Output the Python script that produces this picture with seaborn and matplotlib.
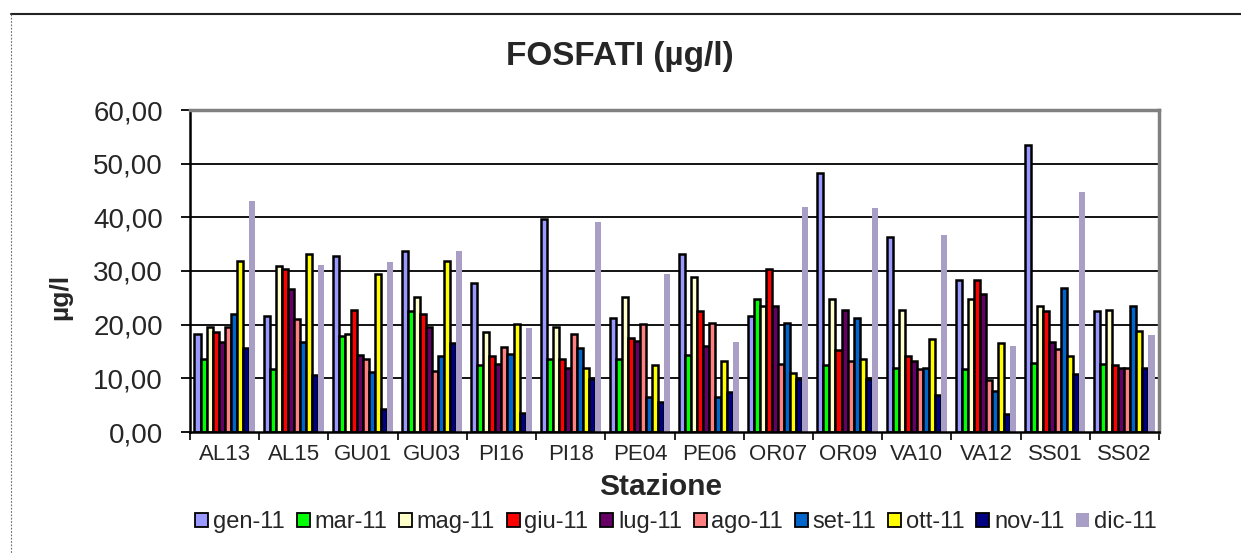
import numpy as np
import pandas as pd
import matplotlib
matplotlib.use("Agg")
import matplotlib.pyplot as plt
from matplotlib.patches import Patch
from matplotlib.ticker import FuncFormatter, FixedLocator
from matplotlib.lines import Line2D
import seaborn as sns

stations = ["AL13", "AL15", "GU01", "GU03", "PI16", "PI18", "PE04", "PE06",
            "OR07", "OR09", "VA10", "VA12", "SS01", "SS02"]
months = ["gen-11", "mar-11", "mag-11", "giu-11", "lug-11",
          "ago-11", "set-11", "ott-11", "nov-11", "dic-11"]

gen_11 = [18.3, 21.7, 32.8, 33.7, 27.7, 39.7, 21.2, 33.1, 21.7, 48.3, 36.4, 28.4, 53.5, 22.5]
mar_11 = [13.6, 11.8, 17.8, 22.5, 12.4, 13.6, 13.6, 14.4, 24.7, 12.4, 12.0, 11.8, 12.8, 12.6]
mag_11 = [19.5, 30.9, 18.3, 25.1, 18.6, 19.6, 25.1, 28.8, 23.5, 24.7, 22.8, 24.7, 23.4, 22.7]
giu_11 = [18.6, 30.4, 22.8, 21.9, 14.1, 13.6, 17.5, 22.5, 30.4, 15.2, 14.1, 28.4, 22.5, 12.4]
lug_11 = [16.8, 26.6, 14.4, 19.6, 12.6, 12.0, 16.9, 16.1, 23.5, 22.8, 13.3, 25.7, 16.8, 12.0]
ago_11 = [19.6, 21.1, 13.6, 11.4, 15.8, 18.3, 20.1, 20.4, 12.6, 13.2, 11.8, 9.6, 15.5, 12.0]
set_11 = [21.9, 16.8, 11.1, 14.1, 14.6, 15.7, 6.5, 6.5, 20.4, 21.2, 12.0, 7.7, 26.9, 23.4]
ott_11 = [31.9, 33.2, 29.4, 31.9, 20.1, 12.0, 12.4, 13.2, 11.0, 13.6, 17.4, 16.5, 14.1, 18.9]
nov_11 = [15.7, 10.6, 4.3, 16.5, 3.6, 9.9, 5.6, 7.4, 9.9, 9.9, 6.9, 3.3, 10.8, 12.0]
dic_11 = [43.0, 31.1, 31.6, 33.7, 19.4, 39.1, 29.4, 16.7, 42.0, 41.7, 36.7, 16.1, 44.7, 18.1]

series = [gen_11, mar_11, mag_11, giu_11, lug_11, ago_11, set_11, ott_11, nov_11, dic_11]
colors = ["#9999FF", "#00FF00", "#FFFFCC", "#FF0000", "#660066",
          "#FF8080", "#0066CC", "#FFFF00", "#000080", "#A99FC6"]
yticks = [0, 10, 20, 30, 40, 50, 60]

rows = []
for m, vals in zip(months, series):
    for s, v in zip(stations, vals):
        rows.append({"Stazione": s, "Mese": m, "Valore": v})
df = pd.DataFrame(rows)

sns.set_style("white")
plt.rcParams["font.family"] = ["Liberation Sans", "DejaVu Sans"]

W, H = 1241, 553
fig = plt.figure(figsize=(W / 100, H / 100), dpi=100)
L, R, T, B = 190, 1159, 110, 432
ax = fig.add_axes([L / W, 1 - B / H, (R - L) / W, (B - T) / H])

sns.barplot(data=df, x="Stazione", y="Valore", hue="Mese", order=stations,
            hue_order=months, palette=colors, width=0.87, gap=0,
            edgecolor="black", linewidth=1.8, saturation=1, ax=ax,
            legend=False)

for cont, m in zip(ax.containers, months):
    if m == "dic-11":
        for p in cont.patches:
            p.set_edgecolor("none")
            p.set_linewidth(0)

ax.set_ylim(0, 60)
ax.set_xlim(-0.5, len(stations) - 0.5)
ax.set_yticks(yticks)
ax.yaxis.set_major_formatter(FuncFormatter(lambda v, p: f"{v:.2f}".replace(".", ",")))
for y in yticks[1:-1]:
    ax.axhline(y, color="black", lw=1.3, zorder=0.5)

ax.set_xlabel("")
ax.set_ylabel("")
ax.tick_params(axis="y", which="major", length=6.5, width=1.3, color="black",
               pad=13, labelsize=20, left=True)
ax.tick_params(axis="x", which="major", length=0, pad=9, labelsize=16)
ax.xaxis.set_minor_locator(FixedLocator(np.arange(-0.5, len(stations), 1.0)))
ax.tick_params(axis="x", which="minor", length=6, width=1.2, color="black",
               bottom=True)

for side in ["left", "bottom"]:
    ax.spines[side].set_color("black")
    ax.spines[side].set_linewidth(1.8)
for side in ["top", "right"]:
    ax.spines[side].set_color("#808080")
    ax.spines[side].set_linewidth(2.5)

fig.text(620 / W, 1 - 57 / H, "FOSFATI (µg/l)", ha="center", va="center",
         fontsize=24, fontweight="bold")
fig.text(661 / W, 1 - 487 / H, "Stazione", ha="center", va="center",
         fontsize=21.5, fontweight="bold")
fig.text(60 / W, 1 - 297 / H, "µg/l", ha="center", va="center",
         fontsize=19, fontweight="bold", rotation=90)

handles = []
for m, c in zip(months, colors):
    ec = "none" if m == "dic-11" else "black"
    handles.append(Patch(facecolor=c, edgecolor=ec, linewidth=1.3, label=m))
fig.legend(handles=handles, loc="center", bbox_to_anchor=(676 / W, 1 - 522 / H),
           ncol=10, frameon=False, fontsize=17, handlelength=0.55,
           handleheight=0.55, handletextpad=0.2, columnspacing=0.5,
           borderpad=0, borderaxespad=0)

fig.add_artist(Line2D([11 / W, 1.0], [1 - 14 / H, 1 - 14 / H],
                      transform=fig.transFigure, color="#222222", lw=1.5))
fig.add_artist(Line2D([11 / W, 11 / W], [1 - 14 / H, 0.0],
                      transform=fig.transFigure, color="#666666", lw=0.8,
                      linestyle=(0, (1.5, 1.5))))

fig.savefig("out.png", dpi=100)
